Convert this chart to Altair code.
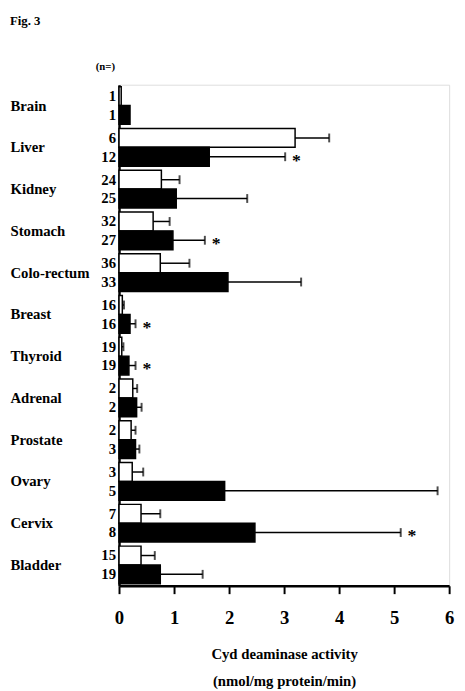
import altair as alt
import pandas as pd

categories = ["Brain", "Liver", "Kidney", "Stomach", "Colo-rectum", "Breast",
              "Thyroid", "Adrenal", "Prostate", "Ovary", "Cervix", "Bladder"]
n_normal = [1, 6, 24, 32, 36, 16, 19, 2, 2, 3, 7, 15]
n_tumor = [1, 12, 25, 27, 33, 16, 19, 2, 3, 5, 8, 19]
mean_normal = [0.04, 3.2, 0.77, 0.62, 0.75, 0.06, 0.05, 0.25, 0.22, 0.24, 0.4, 0.4]
upper_normal = [None, 3.82, 1.1, 0.92, 1.28, 0.09, 0.08, 0.33, 0.3, 0.44, 0.75, 0.65]
mean_tumor = [0.2, 1.64, 1.04, 0.98, 1.98, 0.2, 0.18, 0.32, 0.3, 1.92, 2.47, 0.75]
upper_tumor = [None, 3.02, 2.33, 1.56, 3.31, 0.3, 0.3, 0.41, 0.37, 5.79, 5.12, 1.52]
tumor_star = [False, True, False, True, False, True, True, False, False, False, True, False]
types = ["Normal", "Tumor"]
x_ticks = [0, 0.5, 1, 1.5, 2, 2.5, 3, 3.5, 4, 4.5, 5, 5.5, 6]

FONT = "Liberation Serif"

rows = []
for i, c in enumerate(categories):
    rows.append(dict(cat=c, type="Normal", n=str(n_normal[i]), mean=mean_normal[i],
                     upper=upper_normal[i], star=""))
    rows.append(dict(cat=c, type="Tumor", n=str(n_tumor[i]), mean=mean_tumor[i],
                     upper=upper_tumor[i], star="*" if tumor_star[i] else ""))
df = pd.DataFrame(rows)
err_df = df.dropna(subset=["upper"])
star_df = df[df["star"] != ""]

y = alt.Y("cat:N", sort=categories,
          scale=alt.Scale(paddingInner=0.1, paddingOuter=0.05),
          axis=alt.Axis(title=None, ticks=False, labelAlign="left", labelPadding=111,
                        labelFont=FONT, labelFontSize=15, labelFontWeight="bold",
                        labelColor="black", domainColor="black", domainWidth=2.5))
yoff = alt.YOffset("type:N", sort=types, scale=alt.Scale(paddingInner=0, paddingOuter=0))

x_scale = alt.Scale(domain=[0, 6], nice=False, zero=True)
x_axis = alt.Axis(values=x_ticks,
                  labelExpr="datum.value % 1 == 0 ? format(datum.value, 'd') : ''",
                  title=["Cyd deaminase activity", "(nmol/mg protein/min)"],
                  titleFont=FONT, titleFontSize=15, titleFontWeight="bold",
                  titleColor="black", titleLineHeight=27, titlePadding=20,
                  labelFont=FONT, labelFontSize=19, labelFontWeight="bold",
                  labelColor="black", labelPadding=15, labelFlush=False,
                  grid=False, tickSize=8, tickWidth=2, tickColor="black",
                  domainColor="black", domainWidth=2.5)

base = alt.Chart(df)

bars = base.mark_bar(stroke="black", strokeWidth=1.5).encode(
    x=alt.X("mean:Q", scale=x_scale, axis=x_axis),
    y=y,
    yOffset=yoff,
    fill=alt.Fill("type:N", scale=alt.Scale(domain=types, range=["white", "black"]), legend=None),
)

err = alt.Chart(err_df).mark_rule(color="black", strokeWidth=1.5).encode(
    x=alt.X("mean:Q"), x2="upper:Q", y=y, yOffset=yoff)

caps = alt.Chart(err_df).mark_tick(color="black", thickness=2, size=9, orient="vertical").encode(
    x=alt.X("upper:Q"), y=y, yOffset=yoff)

stars = alt.Chart(star_df).mark_text(font=FONT, fontSize=18, fontWeight="bold",
                                     align="left", baseline="middle", dx=7, dy=4,
                                     color="black").encode(
    x=alt.X("upper:Q"), y=y, yOffset=yoff, text="star:N")

nlabels = base.mark_text(font=FONT, fontSize=15, fontWeight="bold", align="right",
                         baseline="middle", color="black").encode(
    x=alt.value(-3), y=y, yOffset=yoff, text="n:N")

fig_title = alt.Chart(pd.DataFrame({"t": ["Fig. 3"]})).mark_text(
    font=FONT, fontSize=13, fontWeight="bold", align="left", baseline="middle",
    color="black").encode(x=alt.value(-111), y=alt.value(-65), text="t:N")

n_head = alt.Chart(pd.DataFrame({"t": ["(n=)"]})).mark_text(
    font=FONT, fontSize=11, fontWeight="bold", align="right", baseline="middle",
    color="black").encode(x=alt.value(-4), y=alt.value(-18), text="t:N")

chart = alt.layer(bars, err, caps, stars, nlabels, fig_title, n_head).properties(
    width=336, height=510,
    autosize=alt.AutoSizeParams(type="none"),
    padding={"left": 113, "top": 72, "right": 8, "bottom": 101},
).configure_view(stroke=None).configure(background="white")

chart.save("out.html", embed_options={"renderer": "svg", "actions": False})
